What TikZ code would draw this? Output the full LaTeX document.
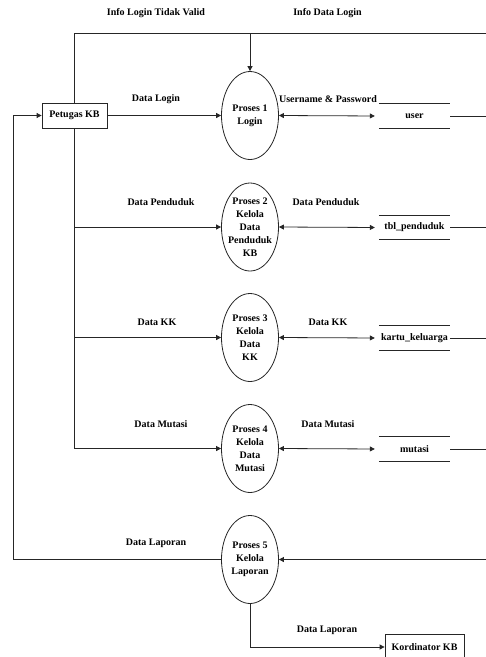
\documentclass[tikz,border=0pt]{standalone}
\usepackage{fontspec}
\setmainfont{Liberation Serif}
\usetikzlibrary{arrows.meta,calc,shapes.geometric}
\begin{document}
\begin{tikzpicture}[x=1pt,y=-1pt,
  font=\bfseries\fontsize{10}{13}\selectfont,
  line/.style={draw=black!85, line width=0.8pt},
  arr/.style={line, -{Triangle[length=5pt,width=5pt]}},
  darr/.style={line, {Triangle[length=5pt,width=5pt]}-{Triangle[length=5pt,width=5pt]}},
  proc/.style={ellipse, draw=black!85, line width=0.8pt, minimum width=57pt, minimum height=88pt, inner sep=0pt},
  ptext/.style={align=center, inner sep=0pt},
  ent/.style={rectangle, draw=black!85, line width=0.8pt, inner sep=0pt, minimum height=25pt},
  store/.style={inner sep=0pt, minimum width=71pt, minimum height=24pt},
  lbl/.style={inner sep=0pt}]
\useasboundingbox (0,0) rectangle (486,657);

% external entities
\node[ent, minimum width=65pt] (pet) at (74.5,115.5) {Petugas KB};
\node[ent, minimum width=79pt, minimum height=26pt] (kor) at (424.5,647) {Kordinator KB};

% processes
\node[proc, label={[ptext]center:Proses 1\\Login}] (p1) at (250,115.5) {};
\node[proc, label={[ptext]center:Proses 2\\Kelola\\Data\\Penduduk\\KB}] (p2) at (250,227) {};
\node[proc, label={[ptext]center:Proses 3\\Kelola\\Data\\KK}] (p3) at (250,337.5) {};
\node[proc, label={[ptext]center:Proses 4\\Kelola\\Data\\Mutasi}] (p4) at (250,448.5) {};
\node[proc, label={[ptext]center:Proses 5\\Kelola\\Laporan}] (p5) at (250,559.5) {};

% data stores
\node[store] (s1) at (414.5,116) {user};
\node[store] (s2) at (414.5,227.5) {tbl\_penduduk};
\node[store] (s3) at (414.5,338) {kartu\_keluarga};
\node[store] (s4) at (414.5,449) {mutasi};
\foreach \s in {s1,s2,s3,s4}{
  \draw[line] (\s.north west) -- (\s.north east);
  \draw[line] (\s.south west) -- (\s.south east);
}

% coordinates
\coordinate (tl) at (74,33);
\coordinate (tj) at (250,33);
\coordinate (tr) at (486,33);
\coordinate (b2) at (74,227);
\coordinate (b3) at (74,337.5);
\coordinate (b4) at (74,448.5);
\coordinate (ll) at (13,559.5);
\coordinate (lu) at (13,115.5);
\coordinate (r1) at (486,116);
\coordinate (r2) at (486,227.5);
\coordinate (r3) at (486,338);
\coordinate (r4) at (486,449);
\coordinate (r5) at (486,559.5);
\coordinate (kb) at (250,647);

% top loop
\draw[line] (pet.north -| tl) -- (tl) -- (tr);
\draw[arr] (tj) -- (p1.north);

% trunk
\draw[line] (pet.south -| tl) -- (b4);
\draw[arr] (pet.east) -- (p1.west);
\draw[arr] (b2) -- (p2.west);
\draw[arr] (b3) -- (p3.west);
\draw[arr] (b4) -- (p4.west);

% process <-> stores
\draw[darr, shorten >=4pt] (p1.east) -- (s1.west);
\draw[darr, shorten >=4pt] (p2.east) -- (s2.west);
\draw[darr, shorten >=4pt] (p3.east) -- (s3.west);
\draw[darr, shorten >=4pt] (p4.east) -- (s4.west);

% stores to right edge
\draw[line] (s1.east) -- (r1);
\draw[line] (s2.east) -- (r2);
\draw[line] (s3.east) -- (r3);
\draw[line] (s4.east) -- (r4);

% report
\draw[arr] (r5) -- (p5.east);
\draw[arr] (p5.west) -- (ll) -- (lu) -- (pet.west);
\draw[arr] (p5.south) -- (kb) -- (kor.west);

% labels
\node[lbl] at (156,13) {Info Login Tidak Valid};
\node[lbl] at (327.5,13) {Info Data Login};
\node[lbl] at (156,99) {Data Login};
\node[lbl] at (328,99) {Username \& Password};
\node[lbl] at (161,202) {Data Penduduk};
\node[lbl] at (326,202) {Data Penduduk};
\node[lbl] at (157,322) {Data KK};
\node[lbl] at (328,322) {Data KK};
\node[lbl] at (161,424) {Data Mutasi};
\node[lbl] at (328,424) {Data Mutasi};
\node[lbl] at (156,543) {Data Laporan};
\node[lbl] at (327,630) {Data Laporan};
\end{tikzpicture}
\end{document}
